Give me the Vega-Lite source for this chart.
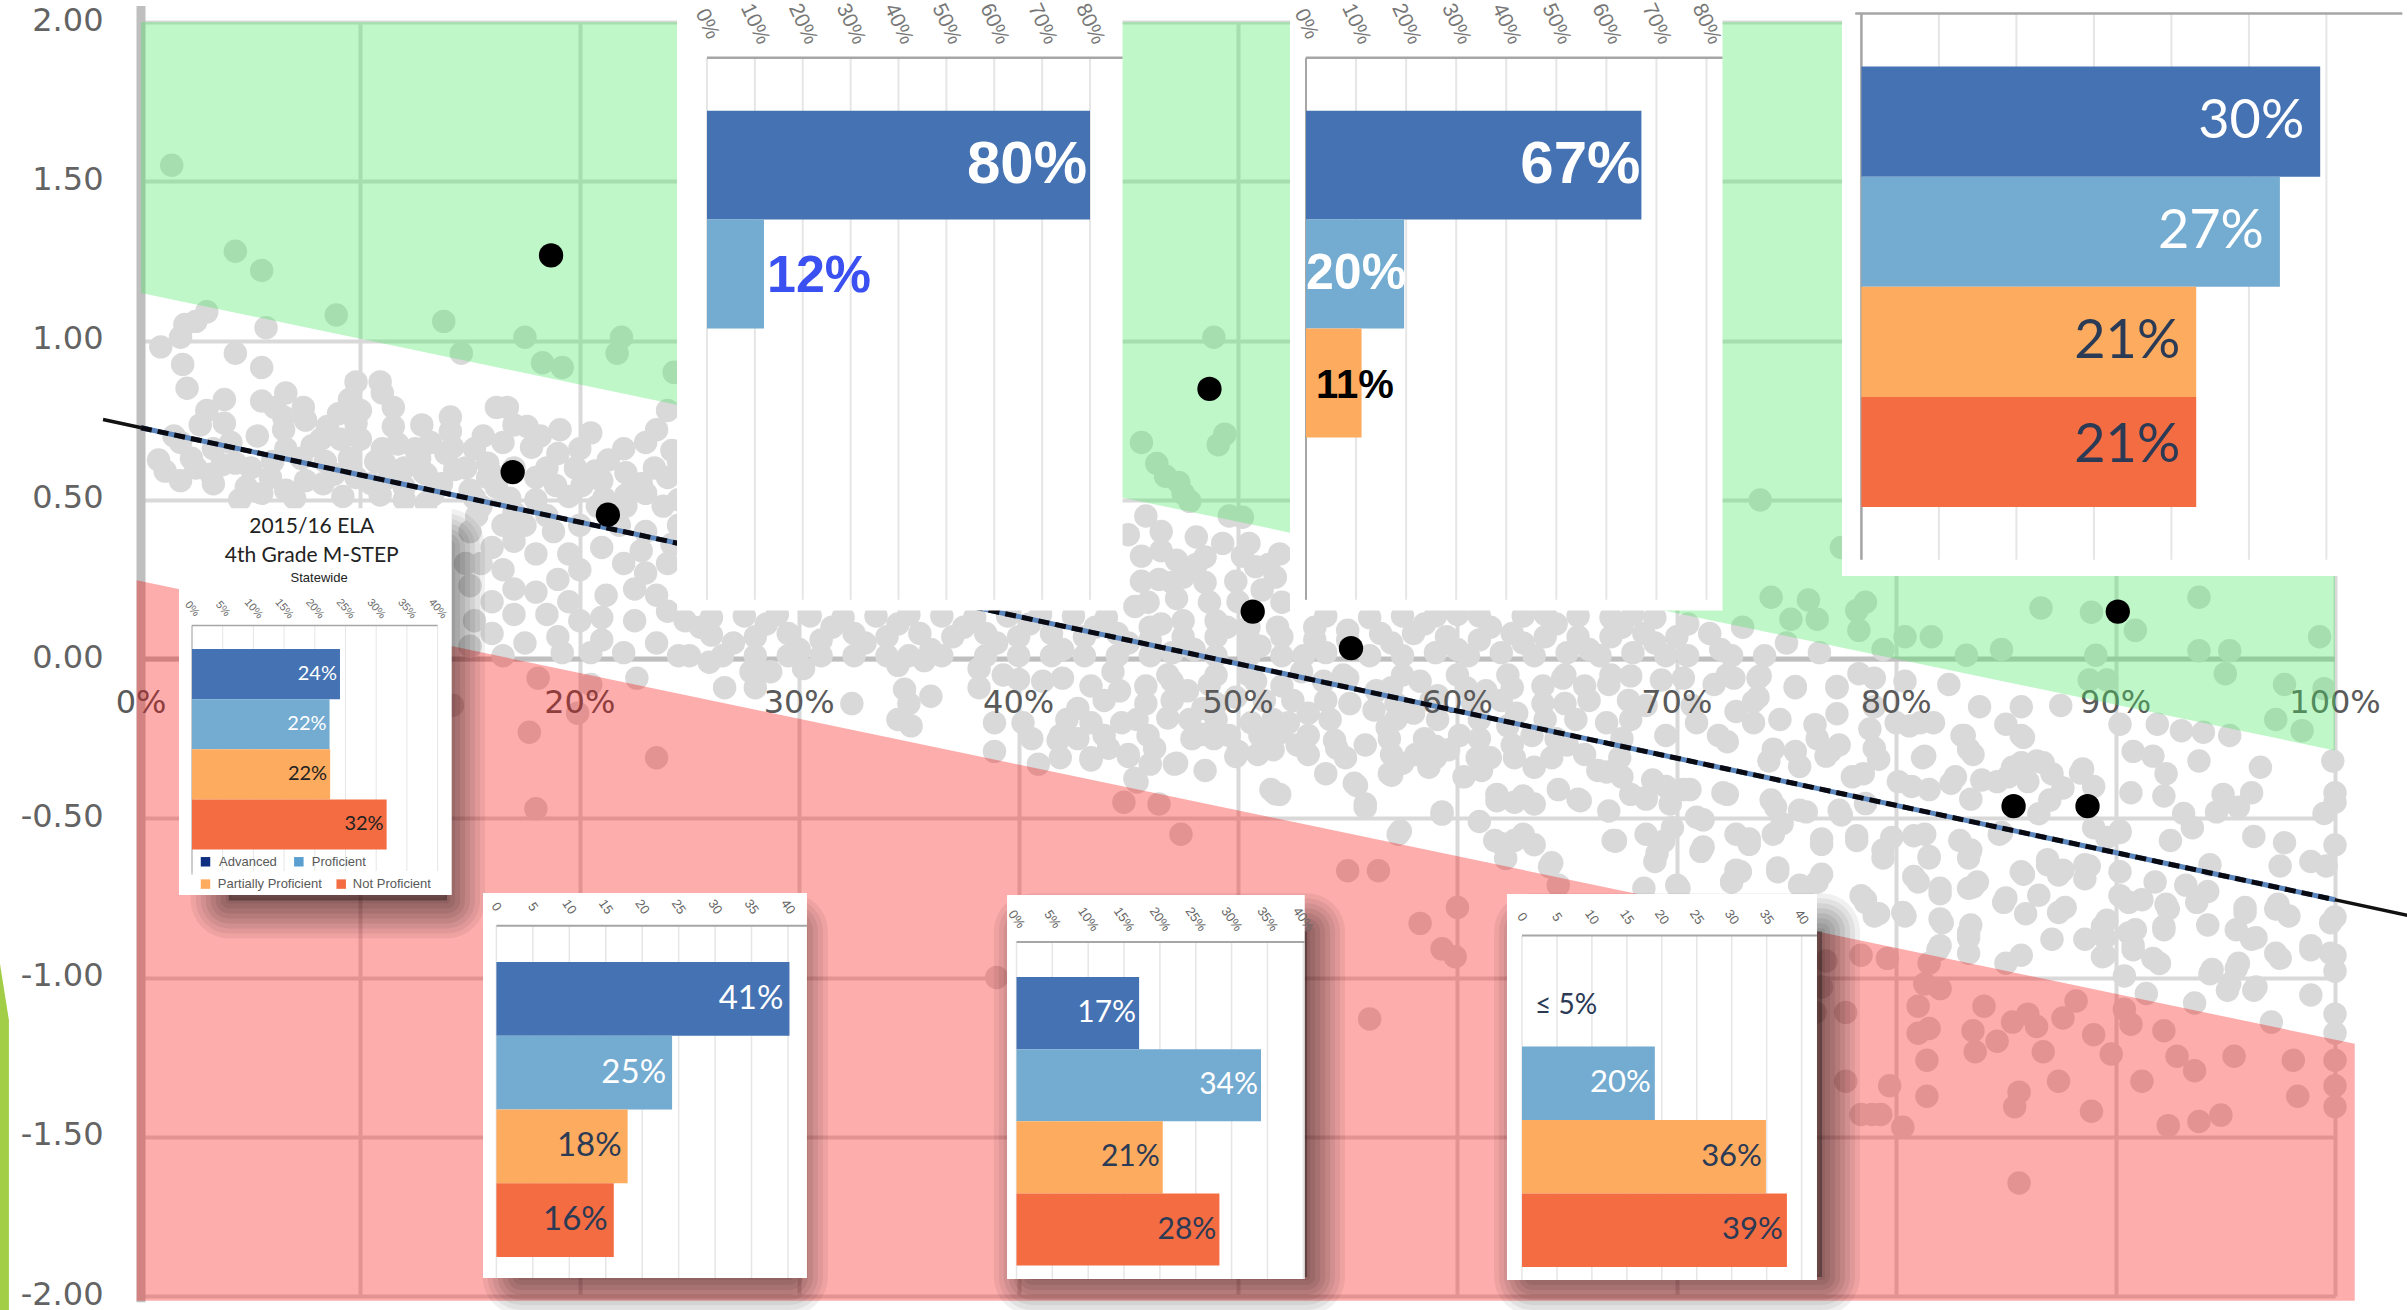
{"$schema":"https://vega.github.io/schema/vega-lite/v6.json","width":2194,"height":1274,"autosize":"none","padding":{"left":141,"top":22,"right":72,"bottom":14},"background":"white",
"datasets":{
"dots":[{"pct":1.4,"score":1.55},{"pct":4.3,"score":1.28},{"pct":5.5,"score":1.22},{"pct":8.9,"score":1.08},{"pct":13.8,"score":1.06},{"pct":17.5,"score":1.01},{"pct":14.6,"score":0.96},{"pct":18.3,"score":0.93},{"pct":19.2,"score":0.915},{"pct":21.9,"score":1.01},{"pct":21.7,"score":0.96},{"pct":24.3,"score":0.9},
{"pct":3,"score":1.09},{"pct":5.7,"score":1.04},{"pct":2.5,"score":1.06},{"pct":2,"score":1.05},{"pct":0.9,"score":0.98},{"pct":1.8,"score":1.01},{"pct":4.3,"score":0.96},{"pct":1.9,"score":0.925},{"pct":5.5,"score":0.915},{"pct":2.1,"score":0.85},{"pct":3.8,"score":0.815},{"pct":5.5,"score":0.81},{"pct":6.6,"score":0.835},{"pct":6.1,"score":0.79},{"pct":7.4,"score":0.79},{"pct":9.8,"score":0.87},{"pct":10.9,"score":0.87},{"pct":11,"score":0.835},{"pct":9.5,"score":0.815},{"pct":16.7,"score":0.79},{"pct":16.2,"score":0.79},{"pct":14.1,"score":0.76},{"pct":12.8,"score":0.735},{"pct":14.1,"score":0.715},{"pct":17,"score":0.735},{"pct":17.6,"score":0.73},{"pct":19.1,"score":0.72},{"pct":15.6,"score":0.7},{"pct":20.5,"score":0.71},{"pct":23,"score":0.68},{"pct":24,"score":0.78},{"pct":24.2,"score":0.655},{"pct":2.7,"score":0.735},{"pct":4.1,"score":0.68},{"pct":8.5,"score":0.73},{"pct":9.8,"score":0.74},{"pct":8.2,"score":0.69},{"pct":6.6,"score":0.66},{"pct":10,"score":0.69},{"pct":11.7,"score":0.675},{"pct":12.7,"score":0.63},{"pct":13.9,"score":0.645},{"pct":14.2,"score":0.665},{"pct":11.1,"score":0.615},{"pct":15.8,"score":0.615},{"pct":17.8,"score":0.665},{"pct":19,"score":0.645},{"pct":21.3,"score":0.625},{"pct":22.1,"score":0.585},{"pct":23.4,"score":0.6},{"pct":20.7,"score":0.59},{"pct":0.8,"score":0.625},{"pct":1.1,"score":0.59},{"pct":2.3,"score":0.63},{"pct":4.3,"score":0.615},{"pct":3.7,"score":0.61},{"pct":5.9,"score":0.57},{"pct":3.3,"score":0.55},{"pct":8.3,"score":0.55},{"pct":6.6,"score":0.53},{"pct":9.8,"score":0.57},{"pct":11.3,"score":0.57},{"pct":12.9,"score":0.585},{"pct":14.3,"score":0.595},{"pct":15.8,"score":0.57},{"pct":18,"score":0.57},{"pct":18.9,"score":0.545},{"pct":20.1,"score":0.545},{"pct":22.1,"score":0.515},{"pct":24,"score":0.57},{"pct":4.5,"score":0.5},{"pct":7,"score":0.505},{"pct":9.2,"score":0.51},{"pct":10.9,"score":0.515},{"pct":13.3,"score":0.515},{"pct":15.2,"score":0.505},{"pct":16.8,"score":0.505},{"pct":22.1,"score":0.48},{"pct":23.8,"score":0.48},{"pct":21.1,"score":0.505},
{"pct":2.5,"score":0.6},{"pct":3.2,"score":0.58},{"pct":5,"score":0.6},{"pct":6,"score":0.62},{"pct":7.3,"score":0.63},{"pct":8.4,"score":0.62},{"pct":9.5,"score":0.63},{"pct":10.7,"score":0.62},{"pct":12,"score":0.6},{"pct":13,"score":0.58},{"pct":14.8,"score":0.6},{"pct":16,"score":0.58},{"pct":17,"score":0.6},{"pct":1.8,"score":0.56},{"pct":4.8,"score":0.54},{"pct":5.5,"score":0.52},{"pct":7.5,"score":0.56},{"pct":8.8,"score":0.58},{"pct":10.5,"score":0.55},{"pct":12,"score":0.54},{"pct":13.7,"score":0.55},{"pct":15,"score":0.53},{"pct":16.2,"score":0.54},{"pct":18.5,"score":0.6},{"pct":19.8,"score":0.6},{"pct":21,"score":0.56},{"pct":22.8,"score":0.55},{"pct":19.5,"score":0.51},{"pct":20.8,"score":0.48},{"pct":18,"score":0.5},{"pct":13,"score":0.49},{"pct":12,"score":0.5},{"pct":15.5,"score":0.48},{"pct":17,"score":0.46},{"pct":18.5,"score":0.45},{"pct":23,"score":0.52},{"pct":24.5,"score":0.5},{"pct":7.8,"score":0.67},{"pct":9.1,"score":0.69},{"pct":11,"score":0.66},{"pct":12.5,"score":0.66},{"pct":9,"score":0.77},{"pct":10,"score":0.78},{"pct":24.5,"score":0.62},
{"pct":1.5,"score":0.7},{"pct":3.3,"score":0.66},{"pct":5.3,"score":0.7},{"pct":6.5,"score":0.72},{"pct":7.5,"score":0.75},{"pct":11.5,"score":0.73},{"pct":13.2,"score":0.68},{"pct":15.2,"score":0.66},{"pct":16.5,"score":0.68},{"pct":18.2,"score":0.7},{"pct":20,"score":0.66},{"pct":22,"score":0.66},{"pct":23.5,"score":0.72},{"pct":24.8,"score":0.58},{"pct":1.8,"score":0.68},{"pct":3.8,"score":0.74},{"pct":3,"score":0.78},{"pct":6.5,"score":0.76},{"pct":11.5,"score":0.79},
{"pct":15,"score":0.4},{"pct":15.5,"score":0.3},{"pct":16,"score":0.18},{"pct":15.2,"score":0.12},{"pct":17.5,"score":0.42},{"pct":18,"score":0.33},{"pct":19,"score":0.25},{"pct":17,"score":0.22},{"pct":18.5,"score":0.14},{"pct":17.5,"score":0.05},{"pct":20,"score":0.42},{"pct":21,"score":0.35},{"pct":20,"score":0.28},{"pct":22,"score":0.3},{"pct":21.2,"score":0.2},{"pct":20,"score":0.12},{"pct":22.5,"score":0.12},{"pct":21,"score":0.06},{"pct":23,"score":0.4},{"pct":24,"score":0.3},{"pct":23.5,"score":0.2},{"pct":24.8,"score":0.12},{"pct":23.5,"score":0.05},{"pct":24.5,"score":0.42},{"pct":25,"score":0.24},{"pct":19.2,"score":0.02},{"pct":15.3,"score":0.45},{"pct":16,"score":0.35},{"pct":16.5,"score":0.42},{"pct":17,"score":0.37},{"pct":18.8,"score":0.4},{"pct":19.5,"score":0.33},{"pct":21.8,"score":0.42},{"pct":22.8,"score":0.34},{"pct":24.2,"score":0.36},{"pct":15,"score":0.23},{"pct":16.5,"score":0.28},{"pct":18,"score":0.21},{"pct":19.5,"score":0.18},{"pct":22.5,"score":0.22},{"pct":23,"score":0.27},{"pct":24,"score":0.15},{"pct":16,"score":0.08},{"pct":17,"score":0.14},{"pct":19,"score":0.07},{"pct":21,"score":0.13},{"pct":22,"score":0.02},{"pct":24.5,"score":0.01},{"pct":20.5,"score":0.02},{"pct":16.5,"score":0.01},{"pct":15,"score":0.04},{"pct":14.8,"score":0.3},
{"pct":18.1,"score":-0.06},{"pct":20.5,"score":-0.08},{"pct":19.9,"score":-0.17},{"pct":17.7,"score":-0.23},{"pct":23.5,"score":-0.31},{"pct":18,"score":-0.47},{"pct":22.6,"score":-0.06},{"pct":26.6,"score":-0.09},{"pct":25.9,"score":-0.01},{"pct":27.8,"score":-0.04},{"pct":28,"score":-0.09},{"pct":28.7,"score":-0.04},{"pct":30.2,"score":-0.03},{"pct":32.4,"score":-0.14},{"pct":34.5,"score":-0.02},{"pct":34.8,"score":-0.095},{"pct":36,"score":-0.117},{"pct":35,"score":-0.14},{"pct":35.7,"score":-0.005},{"pct":38.2,"score":-0.03},{"pct":38.2,"score":-0.09},{"pct":40,"score":-0.064},{"pct":35.1,"score":-0.21},{"pct":34.5,"score":-0.19},{"pct":38.9,"score":-0.2},{"pct":40.2,"score":-0.2},{"pct":38.9,"score":-0.29},{"pct":40.9,"score":-0.33},{"pct":41.8,"score":-0.255},{"pct":41.1,"score":-0.07},{"pct":39.3,"score":-0.05},{"pct":14.2,"score":-0.145},
{"pct":41.9,"score":-0.24},{"pct":43.3,"score":-0.31},{"pct":45,"score":-0.3},{"pct":46.2,"score":-0.28},{"pct":47.1,"score":-0.33},{"pct":48.5,"score":-0.35},{"pct":45.3,"score":-0.375},{"pct":44.7,"score":-0.2},{"pct":43.9,"score":-0.24},{"pct":43.3,"score":-0.085},{"pct":42.7,"score":-0.155},{"pct":44.6,"score":-0.1},{"pct":45.8,"score":-0.14},{"pct":46.8,"score":-0.185},{"pct":45.8,"score":-0.085},{"pct":48.4,"score":-0.155},{"pct":47.7,"score":-0.1},{"pct":49.6,"score":-0.24},{"pct":50.6,"score":-0.2},{"pct":49.9,"score":-0.12},{"pct":51.5,"score":-0.27},{"pct":52.7,"score":-0.27},{"pct":51.5,"score":-0.41},{"pct":51.9,"score":-0.425},{"pct":54,"score":-0.36},{"pct":55.3,"score":-0.39},{"pct":55.8,"score":-0.455},{"pct":54.4,"score":-0.255},{"pct":55.8,"score":-0.27},{"pct":53.2,"score":-0.17},{"pct":55.1,"score":-0.14},{"pct":56.9,"score":-0.36},{"pct":58.7,"score":-0.34},{"pct":59.3,"score":-0.48},{"pct":57.4,"score":-0.54},{"pct":61,"score":-0.51},{"pct":61.8,"score":-0.425},{"pct":60.3,"score":-0.37},{"pct":59.6,"score":-0.285},{"pct":56.8,"score":-0.215},{"pct":58,"score":-0.17},{"pct":60.1,"score":-0.24},{"pct":61.5,"score":-0.31},{"pct":63.4,"score":-0.24},{"pct":62.7,"score":-0.17},{"pct":64.6,"score":-0.41},{"pct":65.5,"score":-0.44},{"pct":63,"score":-0.43},{"pct":62,"score":-0.58},{"pct":63,"score":-0.55},{"pct":64.3,"score":-0.64},{"pct":67.1,"score":-0.57},{"pct":65.8,"score":-0.3},{"pct":66.8,"score":-0.355},{"pct":64.9,"score":-0.14},{"pct":66.8,"score":-0.2},{"pct":61.3,"score":-0.1},{"pct":63.9,"score":-0.085},{"pct":56.3,"score":-0.1},{"pct":53.9,"score":-0.07},{"pct":52,"score":-0.085},{"pct":59.1,"score":-0.115},{"pct":65.8,"score":-0.085},
{"pct":46.8,"score":-0.05},{"pct":49,"score":-0.05},{"pct":50.5,"score":-0.05},{"pct":54.8,"score":-0.05},{"pct":57.5,"score":-0.05},{"pct":60,"score":-0.05},{"pct":62.3,"score":-0.05},{"pct":64.9,"score":-0.05},{"pct":67,"score":-0.05},{"pct":42,"score":-0.06},{"pct":44.3,"score":-0.04},{"pct":47,"score":-0.07},{"pct":48.7,"score":-0.08},{"pct":50.8,"score":-0.07},{"pct":52.9,"score":-0.04},{"pct":55,"score":-0.06},{"pct":57,"score":-0.09},{"pct":58.3,"score":-0.07},{"pct":60.4,"score":-0.09},{"pct":62.5,"score":-0.09},{"pct":64.8,"score":-0.06},{"pct":66.9,"score":-0.08},{"pct":43.9,"score":-0.13},{"pct":47,"score":-0.13},{"pct":49,"score":-0.14},{"pct":51.2,"score":-0.13},{"pct":52.5,"score":-0.13},{"pct":54,"score":-0.13},{"pct":57.2,"score":-0.14},{"pct":58.8,"score":-0.13},{"pct":60.7,"score":-0.14},{"pct":62,"score":-0.13},{"pct":63.9,"score":-0.14},{"pct":66,"score":-0.13},{"pct":67.8,"score":-0.13},{"pct":42.2,"score":-0.19},{"pct":43.3,"score":-0.2},{"pct":45.4,"score":-0.19},{"pct":47.8,"score":-0.19},{"pct":49,"score":-0.19},{"pct":51.6,"score":-0.19},{"pct":52.3,"score":-0.2},{"pct":54.2,"score":-0.19},{"pct":56.2,"score":-0.16},{"pct":57.2,"score":-0.19},{"pct":59.1,"score":-0.19},{"pct":61,"score":-0.19},{"pct":62.3,"score":-0.21},{"pct":64,"score":-0.19},{"pct":65.4,"score":-0.19},{"pct":67.9,"score":-0.19},{"pct":40.6,"score":-0.25},{"pct":42.7,"score":-0.25},{"pct":45.9,"score":-0.24},{"pct":47.9,"score":-0.25},{"pct":48.9,"score":-0.25},{"pct":51,"score":-0.24},{"pct":52,"score":-0.23},{"pct":53.2,"score":-0.24},{"pct":56.9,"score":-0.25},{"pct":58.5,"score":-0.25},{"pct":61,"score":-0.25},{"pct":62.5,"score":-0.27},{"pct":64.5,"score":-0.25},{"pct":65,"score":-0.27},{"pct":67.5,"score":-0.25},{"pct":41.9,"score":-0.31},{"pct":44.1,"score":-0.28},{"pct":46,"score":-0.33},{"pct":50,"score":-0.29},{"pct":50.9,"score":-0.3},{"pct":53.2,"score":-0.3},{"pct":54.9,"score":-0.31},{"pct":57,"score":-0.3},{"pct":58.1,"score":-0.3},{"pct":59,"score":-0.31},{"pct":60.9,"score":-0.31},{"pct":62.6,"score":-0.31},{"pct":64.3,"score":-0.31},{"pct":67.4,"score":-0.31},
{"pct":57,"score":-0.365},{"pct":61.1,"score":-0.35},{"pct":63.5,"score":-0.34},{"pct":66.4,"score":-0.35},{"pct":62.6,"score":-0.45},{"pct":61.8,"score":-0.445},{"pct":63.5,"score":-0.455},{"pct":65.6,"score":-0.445},{"pct":68.6,"score":-0.435},{"pct":69.7,"score":-0.455},{"pct":68.9,"score":-0.38},{"pct":67.5,"score":-0.37},{"pct":61.7,"score":-0.57},{"pct":62.6,"score":-0.57},{"pct":63.5,"score":-0.583},{"pct":62.2,"score":-0.626},{"pct":64.2,"score":-0.652},{"pct":67.2,"score":-0.572},{"pct":68.6,"score":-0.55},{"pct":69,"score":-0.636},{"pct":69.4,"score":-0.572},{"pct":57.3,"score":-0.55},{"pct":59.3,"score":-0.487},{"pct":51.7,"score":-0.423},{"pct":55.4,"score":-0.397},{"pct":55.8,"score":-0.466},{"pct":45.4,"score":-0.386},{"pct":47.2,"score":-0.327},{"pct":43.3,"score":-0.317},{"pct":45,"score":-0.306},{"pct":48.4,"score":-0.237},{"pct":49.9,"score":-0.306},{"pct":51.6,"score":-0.285},{"pct":52.9,"score":-0.274},{"pct":54.5,"score":-0.28},{"pct":57.5,"score":-0.327},{"pct":59,"score":-0.274},
{"pct":44.8,"score":-0.45},{"pct":46.4,"score":-0.455},{"pct":47.4,"score":-0.55},{"pct":55,"score":-0.665},{"pct":56.4,"score":-0.665},{"pct":60,"score":-0.78},{"pct":58.3,"score":-0.83},{"pct":59.3,"score":-0.91},{"pct":59.9,"score":-0.935},{"pct":39,"score":-1},{"pct":56,"score":-1.13},{"pct":64.6,"score":-0.71},
{"pct":45.8,"score":0.449},{"pct":46.5,"score":0.4},{"pct":48.1,"score":0.383},{"pct":45.6,"score":0.323},{"pct":47.2,"score":0.31},{"pct":49.3,"score":0.363},{"pct":50.5,"score":0.363},{"pct":51.4,"score":0.297},{"pct":45.6,"score":0.244},{"pct":47.5,"score":0.257},{"pct":49.9,"score":0.244},{"pct":51.1,"score":0.217},{"pct":45.9,"score":0.178},{"pct":48.7,"score":0.178},{"pct":45.3,"score":0.165},{"pct":47.2,"score":0.19},{"pct":51.7,"score":0.257},{"pct":50.2,"score":0.323},{"pct":48.1,"score":0.297},{"pct":52,"score":0.178},{"pct":46.5,"score":0.34},{"pct":47,"score":0.24},{"pct":48.5,"score":0.24},{"pct":50,"score":0.18},{"pct":49,"score":0.12},{"pct":46,"score":0.1},{"pct":47.5,"score":0.07},{"pct":50.5,"score":0.1},{"pct":51.8,"score":0.1},{"pct":46.4,"score":0.25},{"pct":48.5,"score":0.32},{"pct":50.8,"score":0.29},{"pct":51.9,"score":0.33},{"pct":45,"score":0.39},
{"pct":48.9,"score":1.01},{"pct":45.6,"score":0.68},{"pct":49.4,"score":0.706},{"pct":49.1,"score":0.673},{"pct":46.3,"score":0.614},{"pct":46.7,"score":0.574},{"pct":47.3,"score":0.554},{"pct":47.5,"score":0.52},{"pct":47.8,"score":0.495},{"pct":49.6,"score":0.449},{"pct":50.2,"score":0.445},
{"pct":73.8,"score":0.499},{"pct":77.5,"score":0.35},{"pct":74.3,"score":0.194},{"pct":76,"score":0.185},{"pct":75.2,"score":0.125},{"pct":76.4,"score":0.125},{"pct":78.6,"score":0.178},{"pct":78.2,"score":0.152},{"pct":78.3,"score":0.09},{"pct":86.6,"score":0.16},{"pct":88.9,"score":0.147},{"pct":90.9,"score":0.09},{"pct":93.8,"score":0.194},{"pct":99.3,"score":0.07},{"pct":80.4,"score":0.07},{"pct":81.6,"score":0.07},{"pct":79.4,"score":0.03},{"pct":83.2,"score":0.012},{"pct":84.8,"score":0.03},{"pct":89.1,"score":0.012},{"pct":93.8,"score":0.026},{"pct":95.2,"score":0.026},{"pct":95,"score":-0.046},{"pct":97.7,"score":-0.08},{"pct":99.5,"score":-0.093},{"pct":97.3,"score":-0.19},{"pct":88.8,"score":-0.066},{"pct":89.6,"score":-0.066},{"pct":98.5,"score":-0.225},
{"pct":67.9,"score":-0.053},{"pct":69.3,"score":-0.066},{"pct":72.6,"score":-0.06},{"pct":73.8,"score":-0.053},{"pct":75.4,"score":-0.086},{"pct":77.3,"score":-0.086},{"pct":78.3,"score":-0.046},{"pct":82.4,"score":-0.08},{"pct":68.6,"score":-0.146},{"pct":69.5,"score":-0.24},{"pct":70.7,"score":-0.146},{"pct":71.9,"score":-0.24},{"pct":73.5,"score":-0.133},{"pct":73.5,"score":-0.2},{"pct":74.7,"score":-0.19},{"pct":76.3,"score":-0.206},{"pct":77.3,"score":-0.172},{"pct":79,"score":-0.15},{"pct":80.6,"score":-0.21},{"pct":81.7,"score":-0.2},{"pct":83.8,"score":-0.15},{"pct":85.7,"score":-0.15},{"pct":87.5,"score":-0.146},{"pct":85,"score":-0.205},{"pct":85.7,"score":-0.24},{"pct":83.1,"score":-0.24},{"pct":83.5,"score":-0.3},{"pct":81.3,"score":-0.305},{"pct":79,"score":-0.28},{"pct":77,"score":-0.29},{"pct":75.4,"score":-0.29},{"pct":74.2,"score":-0.32},{"pct":90.2,"score":-0.205},{"pct":91.9,"score":-0.205},{"pct":93,"score":-0.225},{"pct":94,"score":-0.23},{"pct":95.2,"score":-0.24},{"pct":90.8,"score":-0.29},{"pct":91.7,"score":-0.305},{"pct":93.8,"score":-0.32},{"pct":96.6,"score":-0.34},{"pct":99.9,"score":-0.32},{"pct":92.3,"score":-0.36},{"pct":86.4,"score":-0.32},{"pct":85.3,"score":-0.34},{"pct":87.1,"score":-0.36},{"pct":88.5,"score":-0.345},{"pct":84.6,"score":-0.385},{"pct":86,"score":-0.385},{"pct":87.6,"score":-0.405},{"pct":82.7,"score":-0.37},{"pct":81.5,"score":-0.41},{"pct":80.1,"score":-0.385},{"pct":78.5,"score":-0.36},{"pct":83.4,"score":-0.44},{"pct":89,"score":-0.4},{"pct":90.7,"score":-0.42},{"pct":92.2,"score":-0.43},{"pct":94.9,"score":-0.425},{"pct":96.2,"score":-0.42},{"pct":95.6,"score":-0.465},{"pct":94.6,"score":-0.48},{"pct":100,"score":-0.42},{"pct":99.5,"score":-0.485},{"pct":100,"score":-0.45},{"pct":93.1,"score":-0.485},{"pct":93.5,"score":-0.53},{"pct":92.5,"score":-0.57},{"pct":90.2,"score":-0.545},{"pct":89,"score":-0.53},{"pct":84.8,"score":-0.545},{"pct":83.4,"score":-0.6},{"pct":81.5,"score":-0.62},{"pct":79.4,"score":-0.6},{"pct":80.8,"score":-0.555},{"pct":78.2,"score":-0.555},{"pct":76.6,"score":-0.565},{"pct":74.8,"score":-0.517},{"pct":73.3,"score":-0.565},{"pct":71.2,"score":-0.59},{"pct":69.1,"score":-0.61},{"pct":67.2,"score":-0.57},{"pct":67.9,"score":-0.425},{"pct":68.6,"score":-0.44},{"pct":69.5,"score":-0.4},{"pct":70.6,"score":-0.41},{"pct":72.3,"score":-0.425},{"pct":74.5,"score":-0.465},{"pct":75.9,"score":-0.48},{"pct":77.5,"score":-0.49},{"pct":71.2,"score":-0.505},{"pct":69.8,"score":-0.53},{"pct":66.9,"score":-0.477},{"pct":96.3,"score":-0.557},{"pct":97.7,"score":-0.577},{"pct":99.6,"score":-0.65},{"pct":100,"score":-0.584},{"pct":98.9,"score":-0.636},{"pct":97.5,"score":-0.65},{"pct":72.7,"score":-0.663},{"pct":74.6,"score":-0.656},{"pct":76.6,"score":-0.676},{"pct":75.6,"score":-0.71},{"pct":72.5,"score":-0.7},{"pct":70,"score":-0.71},{"pct":68.5,"score":-0.72},{"pct":86.9,"score":-0.63},{"pct":85.8,"score":-0.676},{"pct":80.8,"score":-0.683},{"pct":82,"score":-0.72},{"pct":83.5,"score":-0.716},{"pct":87.6,"score":-0.663},{"pct":88.8,"score":-0.65},{"pct":90.2,"score":-0.743},{"pct":91.2,"score":-0.756},{"pct":92.3,"score":-0.77},{"pct":94.2,"score":-0.73},{"pct":95.9,"score":-0.78},{"pct":97.4,"score":-0.77},{"pct":100,"score":-0.81},{"pct":78.6,"score":-0.756},{"pct":80.3,"score":-0.796},{"pct":82,"score":-0.816},{"pct":85,"score":-0.75},{"pct":85.9,"score":-0.8},{"pct":87.7,"score":-0.78},{"pct":89.6,"score":-0.82},{"pct":83.4,"score":-0.835},{"pct":83.3,"score":-0.875},{"pct":87.1,"score":-0.88},{"pct":88.6,"score":-0.88},{"pct":89.5,"score":-0.875},{"pct":90.9,"score":-0.85},{"pct":90.8,"score":-0.9},{"pct":92.2,"score":-0.84},{"pct":94.2,"score":-0.835},{"pct":96.4,"score":-0.875},{"pct":97.5,"score":-0.94},{"pct":98.9,"score":-0.9},{"pct":100,"score":-0.93},{"pct":100,"score":-0.98},{"pct":95.6,"score":-0.955},{"pct":94.4,"score":-0.975},{"pct":95.2,"score":-1.02},{"pct":96.4,"score":-1.03},{"pct":98.9,"score":-1.055},{"pct":93.6,"score":-1.08},{"pct":97.1,"score":-1.14},{"pct":100,"score":-1.115},{"pct":100,"score":-1.174},{"pct":91.7,"score":-0.94},{"pct":90.4,"score":-0.995},{"pct":85.7,"score":-0.93},{"pct":85,"score":-0.955},{"pct":82,"score":-0.9},{"pct":89.5,"score":-0.93},{"pct":91.4,"score":-1.05},{"pct":78.4,"score":-0.743},{"pct":79.2,"score":-0.8},
{"pct":72.3,"score":-0.05},{"pct":73.7,"score":-0.06},{"pct":75.4,"score":-0.09},{"pct":77.3,"score":-0.09},{"pct":73.7,"score":-0.12},{"pct":72.7,"score":-0.165},{"pct":71.7,"score":-0.08},{"pct":70.3,"score":-0.06},{"pct":70.9,"score":-0.2},{"pct":72.3,"score":-0.26},{"pct":74.4,"score":-0.283},{"pct":76.4,"score":-0.25},{"pct":77.4,"score":-0.27},{"pct":78.8,"score":-0.22},{"pct":80,"score":-0.2},{"pct":79,"score":-0.06},{"pct":80.4,"score":-0.07},{"pct":81.1,"score":-0.2},{"pct":81.2,"score":-0.31},{"pct":83,"score":-0.24},{"pct":83.3,"score":-0.283},{"pct":85.8,"score":-0.246},{"pct":85.7,"score":-0.326},{"pct":86.7,"score":-0.326},{"pct":88.4,"score":-0.358},{"pct":85.1,"score":-0.37},{"pct":83.9,"score":-0.38},{"pct":82.5,"score":-0.39},{"pct":80.7,"score":-0.4},{"pct":79.2,"score":-0.315},{"pct":78,"score":-0.37},{"pct":76.8,"score":-0.305},{"pct":75.6,"score":-0.337},{"pct":70.3,"score":-0.41},{"pct":72.1,"score":-0.42},{"pct":74.3,"score":-0.443},{"pct":75.6,"score":-0.475},{"pct":77.4,"score":-0.475},{"pct":78.6,"score":-0.454},{"pct":70.9,"score":-0.497},{"pct":72.7,"score":-0.55},{"pct":74.4,"score":-0.55},{"pct":76.6,"score":-0.582},{"pct":78.2,"score":-0.57},{"pct":71.1,"score":-0.604},{"pct":73.3,"score":-0.582},{"pct":79.8,"score":-0.56},{"pct":81.3,"score":-0.55},{"pct":82.9,"score":-0.57},{"pct":83.3,"score":-0.625},{"pct":81.5,"score":-0.625},{"pct":79.4,"score":-0.625},{"pct":84.7,"score":-0.55},{"pct":86.5,"score":-0.486},{"pct":87,"score":-0.443},{"pct":90.2,"score":-0.54},{"pct":89.6,"score":-0.56},{"pct":86.9,"score":-0.646},{"pct":88.6,"score":-0.646},{"pct":85.7,"score":-0.668},{"pct":90.2,"score":-0.668},{"pct":88.6,"score":-0.69},{"pct":87.4,"score":-0.678},{"pct":91.8,"score":-0.7},{"pct":93.2,"score":-0.71},{"pct":94.3,"score":-0.646},{"pct":81,"score":-0.7},{"pct":82,"score":-0.737},{"pct":83.3,"score":-0.72},{"pct":83.7,"score":-0.7},{"pct":84.9,"score":-0.764},{"pct":86.5,"score":-0.742},{"pct":87.4,"score":-0.796},{"pct":90.6,"score":-0.764},{"pct":92.4,"score":-0.785},{"pct":93.7,"score":-0.764},{"pct":95.9,"score":-0.796},{"pct":97.3,"score":-0.785},{"pct":97.9,"score":-0.807},{"pct":99.8,"score":-0.828},{"pct":89.4,"score":-0.84},{"pct":90.6,"score":-0.86},{"pct":92.2,"score":-0.85},{"pct":82.1,"score":-0.828},{"pct":83.3,"score":-0.86},{"pct":78.6,"score":-0.764},{"pct":79,"score":-0.807},{"pct":80.4,"score":-0.807},{"pct":81.9,"score":-0.913},{"pct":83.3,"score":-0.924},{"pct":89.4,"score":-0.935},{"pct":90.8,"score":-0.913},{"pct":92,"score":-0.956},{"pct":95.5,"score":-0.85},{"pct":96.2,"score":-0.88},{"pct":97.3,"score":-0.924},{"pct":98.9,"score":-0.913},{"pct":94.3,"score":-0.988},{"pct":95.5,"score":-0.972},{"pct":95.1,"score":-1.04},{"pct":96.3,"score":-1.04},{"pct":99.8,"score":-0.924},{"pct":76.4,"score":-0.7},{"pct":72.9,"score":-0.668},{"pct":74.6,"score":-0.668},{"pct":72.5,"score":-0.7},{"pct":70.1,"score":-0.72},{"pct":75.8,"score":-0.72},
{"pct":81.5,"score":-0.955},{"pct":81.3,"score":-1.02},{"pct":82,"score":-1.035},{"pct":81,"score":-1.09},{"pct":84,"score":-1.09},{"pct":81.5,"score":-1.16},{"pct":81,"score":-1.175},{"pct":83.5,"score":-1.167},{"pct":84.6,"score":-1.2},{"pct":83.6,"score":-1.233},{"pct":85.3,"score":-1.14},{"pct":86,"score":-1.115},{"pct":86.4,"score":-1.154},{"pct":87.6,"score":-1.127},{"pct":88.2,"score":-1.074},{"pct":89,"score":-1.18},{"pct":89.8,"score":-1.24},{"pct":86.7,"score":-1.233},{"pct":90.4,"score":-1.1},{"pct":90.7,"score":-1.147},{"pct":92.2,"score":-1.167},{"pct":92.8,"score":-1.247},{"pct":93.6,"score":-1.293},{"pct":95.4,"score":-1.247},{"pct":98.1,"score":-1.26},{"pct":100,"score":-1.26},{"pct":100,"score":-1.34},{"pct":100,"score":-1.406},{"pct":98.3,"score":-1.373},{"pct":91.2,"score":-1.326},{"pct":87.4,"score":-1.326},{"pct":85.6,"score":-1.36},{"pct":85.4,"score":-1.406},{"pct":88.9,"score":-1.42},{"pct":92.4,"score":-1.465},{"pct":93.8,"score":-1.452},{"pct":94.8,"score":-1.432},{"pct":81.4,"score":-1.26},{"pct":81.4,"score":-1.373},{"pct":77.7,"score":-1.326},{"pct":79.7,"score":-1.34},{"pct":78.9,"score":-1.43},{"pct":78.4,"score":-1.43},{"pct":79.3,"score":-1.43},{"pct":80.3,"score":-1.47},{"pct":85.6,"score":-1.645},{"pct":77.7,"score":-1.11},{"pct":76.8,"score":-0.948},{"pct":78.4,"score":-0.93},{"pct":79.6,"score":-0.94},{"pct":76.6,"score":-1.03},{"pct":76.3,"score":-1.11},
{"pct":25.5,"score":0.1},{"pct":27,"score":0.05},{"pct":28.5,"score":0.11},{"pct":30,"score":0.03},{"pct":31.5,"score":0.1},{"pct":33,"score":0.05},{"pct":34.5,"score":0.11},{"pct":36,"score":0.03},{"pct":37.5,"score":0.1},{"pct":39,"score":0.05},{"pct":40.5,"score":0.11},{"pct":42,"score":0.03},{"pct":43.5,"score":0.1},{"pct":45,"score":0.05},{"pct":46.5,"score":0.11},{"pct":48,"score":0.03},{"pct":49.5,"score":0.1},{"pct":51,"score":0.04},{"pct":53.5,"score":0.1},{"pct":55,"score":0.09},{"pct":57,"score":0.05},{"pct":58.5,"score":0.11},{"pct":60,"score":0.03},{"pct":61.5,"score":0.1},{"pct":63,"score":0.05},{"pct":64.5,"score":0.11},{"pct":66,"score":0.03},{"pct":67.5,"score":0.1},{"pct":69,"score":0.05},{"pct":70.5,"score":0.11},{"pct":72,"score":0.03},{"pct":73,"score":0.1},{"pct":75,"score":0.05},{"pct":76.5,"score":0.02},{"pct":26,"score":0.13},{"pct":29,"score":0.14},{"pct":32,"score":0.13},{"pct":35,"score":0.14},{"pct":38,"score":0.13},{"pct":41,"score":0.14},{"pct":44,"score":0.13},{"pct":26.5,"score":0.01},{"pct":29.5,"score":0.01},{"pct":34,"score":0.01},{"pct":38.5,"score":0.01},{"pct":43,"score":0.01},{"pct":47,"score":0.02},{"pct":54,"score":0.02},{"pct":59,"score":0.02},{"pct":62,"score":0.02},{"pct":65,"score":0.02},{"pct":68,"score":0.02},{"pct":70.5,"score":0.01},{"pct":74,"score":0.01},{"pct":56,"score":0.13},{"pct":60,"score":0.14},{"pct":64,"score":0.14},{"pct":68,"score":0.14},
{"pct":26,"score":0.075},{"pct":28,"score":0.07},{"pct":29.5,"score":0.08},{"pct":31,"score":0.06},{"pct":32.5,"score":0.08},{"pct":34,"score":0.07},{"pct":35.5,"score":0.08},{"pct":37,"score":0.07},{"pct":38.5,"score":0.08},{"pct":40,"score":0.07},{"pct":41.5,"score":0.08},{"pct":43,"score":0.07},{"pct":44.5,"score":0.08},{"pct":46,"score":0.06},{"pct":47.5,"score":0.12},{"pct":49,"score":0.07},{"pct":50.5,"score":0.06},{"pct":52,"score":0.07},{"pct":53.5,"score":0.06},{"pct":55,"score":0.06},{"pct":56.5,"score":0.08},{"pct":58,"score":0.08},{"pct":59.5,"score":0.07},{"pct":61,"score":0.06},{"pct":62.5,"score":0.08},{"pct":64,"score":0.07},{"pct":65.5,"score":0.07},{"pct":67,"score":0.07},{"pct":68.5,"score":0.08},{"pct":70,"score":0.07},{"pct":71.5,"score":0.08},{"pct":27.5,"score":0.135},{"pct":30.5,"score":0.135},{"pct":33.5,"score":0.135},{"pct":36.5,"score":0.135},{"pct":39.5,"score":0.135},{"pct":42.5,"score":0.135},{"pct":54,"score":0.135},{"pct":57.5,"score":0.135},{"pct":59,"score":0.135},{"pct":61,"score":0.135},{"pct":63,"score":0.135},{"pct":65.5,"score":0.135},{"pct":67,"score":0.13},{"pct":69,"score":0.13},{"pct":25,"score":0.01},{"pct":28,"score":0.01},{"pct":31,"score":0.01},{"pct":32.5,"score":0.01},{"pct":35,"score":0.01},{"pct":36.5,"score":0.01},{"pct":40,"score":0.01},{"pct":41.5,"score":0.01},{"pct":44.5,"score":0.01},{"pct":46,"score":0.01},{"pct":49,"score":0.01},{"pct":50.5,"score":0.01},{"pct":52,"score":0.01},{"pct":53,"score":0.01},{"pct":56,"score":0.01},{"pct":57.5,"score":0.01},{"pct":60.5,"score":0.01},{"pct":63.5,"score":0.01},{"pct":66.5,"score":0.01},{"pct":69.5,"score":0.01},{"pct":72.5,"score":0.01}],
"shadows":[{"pct":4,"pct2":13.95,"score":0.353,"score2":-0.758},{"pct":17.3,"pct2":29.58,"score":-0.855,"score2":-1.94},{"pct":40.6,"pct2":53.15,"score":-0.855,"score2":-1.94},{"pct":63.4,"pct2":76.62,"score":-0.855,"score2":-1.94}],
"ticks40":[{"pct":0,"label":"0%"},{"pct":5,"label":"5%"},{"pct":10,"label":"10%"},{"pct":15,"label":"15%"},{"pct":20,"label":"20%"},{"pct":25,"label":"25%"},{"pct":30,"label":"30%"},{"pct":35,"label":"35%"},{"pct":40,"label":"40%"}],
"ticks40n":[{"pct":0,"label":"0"},{"pct":5,"label":"5"},{"pct":10,"label":"10"},{"pct":15,"label":"15"},{"pct":20,"label":"20"},{"pct":25,"label":"25"},{"pct":30,"label":"30"},{"pct":35,"label":"35"},{"pct":40,"label":"40"}],
"ticks80":[{"pct":0,"label":"0%"},{"pct":10,"label":"10%"},{"pct":20,"label":"20%"},{"pct":30,"label":"30%"},{"pct":40,"label":"40%"},{"pct":50,"label":"50%"},{"pct":60,"label":"60%"},{"pct":70,"label":"70%"},{"pct":80,"label":"80%"}],
"ticks30":[{"pct":0},{"pct":5},{"pct":10},{"pct":15},{"pct":20},{"pct":25},{"pct":30}]
},
"resolve":{"scale":{"x":"independent","y":"independent"}},
"layer":[
{"data":{"name":"dots"},
"encoding":{"x":{"field":"pct","type":"quantitative","scale":{"domain":[0,100],"nice":false,"zero":false},"axis":{"values":[0,10,20,30,40,50,60,70,80,90,100],"labels":false,"ticks":false,"domain":false,"title":null,"grid":true,"gridColor":"#d9d9d9","gridWidth":4}},
"y":{"field":"score","type":"quantitative","scale":{"domain":[-2,2],"nice":false,"zero":false},"axis":{"values":[-2,-1.5,-1,-0.5,0,0.5,1,1.5,2],"labelExpr":"replace(format(datum.value,'.2f'),'−','-')","labelFont":"DejaVu Sans","labelFontSize":32,"labelColor":"#636363","labelPadding":38,"labelOffset":-2,"ticks":false,"domain":false,"title":null,"grid":true,"gridColor":"#d9d9d9","gridWidth":4}}},
"layer":[
{"mark":{"type":"rule","color":"#bfbfbf","strokeWidth":5},"data":{"values":[{"score":0,"pct":0,"pct2":100}]},"encoding":{"x2":{"field":"pct2"}}},
{"mark":{"type":"rule","color":"#bfbfbf","strokeWidth":9},"data":{"values":[{"pct":0,"score":2.05,"score2":-2.02}]},"encoding":{"y2":{"field":"score2"}}},
{"mark":{"type":"circle","color":"#d9d9d9","opacity":1,"size":550}},
{"mark":{"type":"text","font":"DejaVu Sans","fontSize":32,"color":"#5a5a5a","dy":44,"baseline":"middle"},"data":{"values":[{"pct":0,"score":0,"label":"0%"},{"pct":20,"score":0,"label":"20%"},{"pct":30,"score":0,"label":"30%"},{"pct":40,"score":0,"label":"40%"},{"pct":50,"score":0,"label":"50%"},{"pct":60,"score":0,"label":"60%"},{"pct":70,"score":0,"label":"70%"},{"pct":80,"score":0,"label":"80%"},{"pct":90,"score":0,"label":"90%"},{"pct":100,"score":0,"label":"100%"}]},"encoding":{"text":{"field":"label"}}},
{"mark":{"type":"area","color":"#48e864","opacity":0.35},"data":{"values":[{"pct":0,"score":1.149,"score2":2},{"pct":100,"score":-0.287,"score2":2}]},"encoding":{"y2":{"field":"score2"}}},
{"mark":{"type":"area","color":"#fd0606","opacity":0.33},"data":{"values":[{"pct":-0.2,"score":0.247,"score2":-2.015},{"pct":100.9,"score":-1.208,"score2":-2.015}]},"encoding":{"y2":{"field":"score2"}}},
{"mark":{"type":"area","color":"#a2cd46"},"data":{"values":[{"pct":-6.43,"score":-0.955,"score2":-2.05},{"pct":-6.02,"score":-1.134,"score2":-2.05}]},"encoding":{"y2":{"field":"score2"}}},
{"mark":{"type":"line","color":"#111111","strokeWidth":3.5},"data":{"values":[{"pct":-1.73,"score":0.752},{"pct":103.3,"score":-0.805}]}},
{"mark":{"type":"line","color":"#5b86bd","strokeWidth":5},"data":{"values":[{"pct":0,"score":0.726},{"pct":100,"score":-0.756}]}},
{"mark":{"type":"line","color":"#0a0a12","strokeWidth":5,"strokeDash":[11,6]},"data":{"values":[{"pct":0,"score":0.726},{"pct":100,"score":-0.756}]}},
{"mark":{"type":"circle","color":"#000000","opacity":1,"size":590},"data":{"values":[{"pct":18.69,"score":1.267},{"pct":16.94,"score":0.587},{"pct":21.28,"score":0.453},{"pct":48.7,"score":0.848},{"pct":50.67,"score":0.149},{"pct":55.15,"score":0.034},{"pct":85.35,"score":-0.462},{"pct":88.72,"score":-0.462},{"pct":90.1,"score":0.149}]}},
{"mark":{"type":"rect","fill":"black","fillOpacity":0.3},"data":{"name":"shadows"},"encoding":{"x2":{"field":"pct2"},"y2":{"field":"score2"}}},
{"mark":{"type":"rect","fill":null,"stroke":"black","strokeOpacity":0.06,"strokeWidth":76,"strokeJoin":"round"},"data":{"name":"shadows"},"encoding":{"x2":{"field":"pct2"},"y2":{"field":"score2"}}},
{"mark":{"type":"rect","fill":null,"stroke":"black","strokeOpacity":0.06,"strokeWidth":66,"strokeJoin":"round"},"data":{"name":"shadows"},"encoding":{"x2":{"field":"pct2"},"y2":{"field":"score2"}}},
{"mark":{"type":"rect","fill":null,"stroke":"black","strokeOpacity":0.06,"strokeWidth":56,"strokeJoin":"round"},"data":{"name":"shadows"},"encoding":{"x2":{"field":"pct2"},"y2":{"field":"score2"}}},
{"mark":{"type":"rect","fill":null,"stroke":"black","strokeOpacity":0.07,"strokeWidth":46,"strokeJoin":"round"},"data":{"name":"shadows"},"encoding":{"x2":{"field":"pct2"},"y2":{"field":"score2"}}},
{"mark":{"type":"rect","fill":null,"stroke":"black","strokeOpacity":0.07,"strokeWidth":36,"strokeJoin":"round"},"data":{"name":"shadows"},"encoding":{"x2":{"field":"pct2"},"y2":{"field":"score2"}}},
{"mark":{"type":"rect","fill":null,"stroke":"black","strokeOpacity":0.07,"strokeWidth":26,"strokeJoin":"round"},"data":{"name":"shadows"},"encoding":{"x2":{"field":"pct2"},"y2":{"field":"score2"}}},
{"mark":{"type":"rect","fill":null,"stroke":"black","strokeOpacity":0.07,"strokeWidth":16,"strokeJoin":"round"},"data":{"name":"shadows"},"encoding":{"x2":{"field":"pct2"},"y2":{"field":"score2"}}},
{"mark":{"type":"rect","fill":null,"stroke":"black","strokeOpacity":0.07,"strokeWidth":6,"strokeJoin":"round"},"data":{"name":"shadows"},"encoding":{"x2":{"field":"pct2"},"y2":{"field":"score2"}}}
]},

{"encoding":{"x":{"field":"pct","type":"quantitative","scale":{"domain":[0,40],"range":[51,296.6],"nice":false,"zero":false},"axis":null},"y":{"field":"row","type":"quantitative","scale":{"domain":[0,4],"range":[627,827.5],"nice":false,"zero":false},"axis":null}},
"layer":[
{"mark":{"type":"rect","fill":"white"},"data":{"values":[{"pct":-2.12,"pct2":42.3,"row":-2.81,"row2":4.91}]},"encoding":{"x2":{"field":"pct2"},"y2":{"field":"row2"}}},
{"mark":{"type":"rule","color":"#e6e6e6","strokeWidth":1},"data":{"name":"ticks40"},"transform":[{"calculate":"-0.47","as":"row"},{"calculate":"4.43","as":"row2"}],"encoding":{"y2":{"field":"row2"}}},
{"mark":{"type":"rule","color":"#a6a6a6","strokeWidth":1.5},"data":{"values":[{"pct":0,"pct2":40,"row":-0.47}]},"encoding":{"x2":{"field":"pct2"}}},
{"mark":{"type":"rule","color":"#a6a6a6","strokeWidth":1},"data":{"values":[{"pct":0,"row":-0.47,"row2":4.5}]},"encoding":{"y2":{"field":"row2"}}},
{"mark":{"type":"text","font":"Liberation Sans","fontSize":11,"color":"#6b6b6b","angle":50,"baseline":"middle"},"data":{"name":"ticks40"},"transform":[{"calculate":"-0.8","as":"row"}],"encoding":{"text":{"field":"label"}}},
{"mark":{"type":"rect"},"data":{"values":[{"level":"Advanced","start":0,"pct":24.1,"row":0,"row2":1},{"level":"Proficient","start":0,"pct":22.4,"row":1,"row2":2},{"level":"Partially Proficient","start":0,"pct":22.5,"row":2,"row2":3},{"level":"Not Proficient","start":0,"pct":31.7,"row":3,"row2":4}]},"encoding":{"x2":{"field":"start"},"y2":{"field":"row2"},"fill":{"field":"level","type":"nominal","legend":null,"scale":{"domain":["Advanced","Proficient","Partially Proficient","Not Proficient"],"range":["#4472b3","#73abd1","#fdac5f","#f46c41"]}}}},
{"mark":{"type":"text","font":"Lato","fontSize":20,"align":"right","dx":-3,"baseline":"middle"},"data":{"values":[{"level":"Advanced","pct":24.1,"row":0.5,"label":"24%"},{"level":"Proficient","pct":22.4,"row":1.5,"label":"22%"},{"level":"Partially Proficient","pct":22.5,"row":2.5,"label":"22%"},{"level":"Not Proficient","pct":31.7,"row":3.5,"label":"32%"}]},"encoding":{"text":{"field":"label"},"color":{"condition":{"test":"datum.row<2","value":"#ffffff"},"value":"#222222"}}},
{"mark":{"type":"text","font":"Lato","fontSize":21,"color":"#222222","baseline":"middle"},"data":{"values":[{"pct":19.5,"row":-2.43,"label":"2015/16 ELA"},{"pct":19.5,"row":-1.86,"label":"4th Grade M-STEP"}]},"encoding":{"text":{"field":"label"}}},
{"mark":{"type":"text","font":"Liberation Sans","fontSize":13,"color":"#222222","baseline":"middle"},"data":{"values":[{"pct":20.7,"row":-1.42,"label":"Statewide"}]},"encoding":{"text":{"field":"label"}}},
{"mark":{"type":"square","size":90,"opacity":1},"data":{"values":[{"pct":2.2,"row":4.245,"swatch":"#0f2f82"},{"pct":17.4,"row":4.245,"swatch":"#5b9fd0"},{"pct":2.2,"row":4.69,"swatch":"#fdac5f"},{"pct":24.3,"row":4.69,"swatch":"#f46c41"}]},"encoding":{"color":{"field":"swatch","type":"nominal","scale":null}}},
{"mark":{"type":"text","font":"Liberation Sans","fontSize":13,"color":"#595959","align":"left","baseline":"middle"},"data":{"values":[{"pct":4.4,"row":4.245,"label":"Advanced"},{"pct":19.5,"row":4.245,"label":"Proficient"},{"pct":4.2,"row":4.69,"label":"Partially Proficient"},{"pct":26.2,"row":4.69,"label":"Not Proficient"}]},"encoding":{"text":{"field":"label"}}}
]},

{"encoding":{"x":{"field":"pct","type":"quantitative","scale":{"domain":[0,40],"range":[355.4,647],"nice":false,"zero":false},"axis":null},"y":{"field":"row","type":"quantitative","scale":{"domain":[0,4],"range":[940,1235],"nice":false,"zero":false},"axis":null}},
"layer":[
{"mark":{"type":"rect","fill":"white"},"data":{"values":[{"pct":-1.84,"pct2":42.6,"row":-0.936,"row2":4.285}]},"encoding":{"x2":{"field":"pct2"},"y2":{"field":"row2"}}},
{"mark":{"type":"rule","color":"#e6e6e6","strokeWidth":1.5},"data":{"name":"ticks40n"},"transform":[{"calculate":"-0.49","as":"row"},{"calculate":"4.285","as":"row2"}],"encoding":{"y2":{"field":"row2"}}},
{"mark":{"type":"rule","color":"#a6a6a6","strokeWidth":2},"data":{"values":[{"pct":0,"pct2":42.6,"row":-0.49}]},"encoding":{"x2":{"field":"pct2"}}},
{"mark":{"type":"text","font":"Liberation Sans","fontSize":13,"color":"#666666","angle":55,"baseline":"middle"},"data":{"name":"ticks40n"},"transform":[{"calculate":"-0.746","as":"row"}],"encoding":{"text":{"field":"label"}}},
{"mark":{"type":"rect"},"data":{"values":[{"level":"Advanced","start":0,"pct":40.2,"row":0,"row2":1},{"level":"Proficient","start":0,"pct":24.1,"row":1,"row2":2},{"level":"Partially Proficient","start":0,"pct":18,"row":2,"row2":3},{"level":"Not Proficient","start":0,"pct":16.1,"row":3,"row2":4}]},"encoding":{"x2":{"field":"start"},"y2":{"field":"row2"},"fill":{"field":"level","type":"nominal","legend":null}}},
{"mark":{"type":"text","font":"Lato","fontSize":33,"align":"right","dx":-6,"baseline":"middle"},"data":{"values":[{"pct":40.2,"row":0.5,"label":"41%"},{"pct":24.1,"row":1.5,"label":"25%"},{"pct":18,"row":2.5,"label":"18%"},{"pct":16.1,"row":3.5,"label":"16%"}]},"encoding":{"text":{"field":"label"},"color":{"condition":{"test":"datum.row<2","value":"#ffffff"},"value":"#2b3a55"}}}
]},

{"encoding":{"x":{"field":"pct","type":"quantitative","scale":{"domain":[0,40],"range":[875.5,1162.3],"nice":false,"zero":false},"axis":null},"y":{"field":"row","type":"quantitative","scale":{"domain":[0,4],"range":[955,1243.6],"nice":false,"zero":false},"axis":null}},
"layer":[
{"mark":{"type":"rect","fill":"white"},"data":{"values":[{"pct":-1.32,"pct2":40.2,"row":-1.136,"row2":4.186}]},"encoding":{"x2":{"field":"pct2"},"y2":{"field":"row2"}}},
{"mark":{"type":"rule","color":"#e6e6e6","strokeWidth":1.5},"data":{"name":"ticks40"},"transform":[{"calculate":"-0.485","as":"row"},{"calculate":"4.186","as":"row2"}],"encoding":{"y2":{"field":"row2"}}},
{"mark":{"type":"rule","color":"#a6a6a6","strokeWidth":2},"data":{"values":[{"pct":0,"pct2":40.2,"row":-0.485}]},"encoding":{"x2":{"field":"pct2"}}},
{"mark":{"type":"text","font":"Liberation Sans","fontSize":13,"color":"#666666","angle":55,"baseline":"middle"},"data":{"name":"ticks40"},"transform":[{"calculate":"-0.8","as":"row"}],"encoding":{"text":{"field":"label"}}},
{"mark":{"type":"rect"},"data":{"values":[{"level":"Advanced","start":0,"pct":17.1,"row":0,"row2":1},{"level":"Proficient","start":0,"pct":34.1,"row":1,"row2":2},{"level":"Partially Proficient","start":0,"pct":20.4,"row":2,"row2":3},{"level":"Not Proficient","start":0,"pct":28.3,"row":3,"row2":4}]},"encoding":{"x2":{"field":"start"},"y2":{"field":"row2"},"fill":{"field":"level","type":"nominal","legend":null}}},
{"mark":{"type":"text","font":"Lato","fontSize":30,"align":"right","dx":-3,"baseline":"middle"},"data":{"values":[{"pct":17.1,"row":0.5,"label":"17%"},{"pct":34.1,"row":1.5,"label":"34%"},{"pct":20.4,"row":2.5,"label":"21%"},{"pct":28.3,"row":3.5,"label":"28%"}]},"encoding":{"text":{"field":"label"},"color":{"condition":{"test":"datum.row<2","value":"#ffffff"},"value":"#2b3a55"}}}
]},

{"encoding":{"x":{"field":"pct","type":"quantitative","scale":{"domain":[0,40],"range":[1381,1660.6],"nice":false,"zero":false},"axis":null},"y":{"field":"row","type":"quantitative","scale":{"domain":[0,4],"range":[951,1245],"nice":false,"zero":false},"axis":null}},
"layer":[
{"mark":{"type":"rect","fill":"white"},"data":{"values":[{"pct":-2.15,"pct2":42.2,"row":-1.075,"row2":4.177}]},"encoding":{"x2":{"field":"pct2"},"y2":{"field":"row2"}}},
{"mark":{"type":"rule","color":"#e6e6e6","strokeWidth":1.5},"data":{"name":"ticks40n"},"transform":[{"calculate":"-0.51","as":"row"},{"calculate":"4.177","as":"row2"}],"encoding":{"y2":{"field":"row2"}}},
{"mark":{"type":"rule","color":"#a6a6a6","strokeWidth":2},"data":{"values":[{"pct":0,"pct2":42.2,"row":-0.51}]},"encoding":{"x2":{"field":"pct2"}}},
{"mark":{"type":"text","font":"Liberation Sans","fontSize":13,"color":"#666666","angle":55,"baseline":"middle"},"data":{"name":"ticks40n"},"transform":[{"calculate":"-0.76","as":"row"}],"encoding":{"text":{"field":"label"}}},
{"mark":{"type":"rect"},"data":{"values":[{"level":"Proficient","start":0,"pct":19,"row":1,"row2":2},{"level":"Partially Proficient","start":0,"pct":34.9,"row":2,"row2":3},{"level":"Not Proficient","start":0,"pct":37.9,"row":3,"row2":4}]},"encoding":{"x2":{"field":"start"},"y2":{"field":"row2"},"fill":{"field":"level","type":"nominal","legend":null}}},
{"mark":{"type":"text","font":"Lato","fontSize":31,"align":"right","dx":-4,"baseline":"middle"},"data":{"values":[{"pct":19,"row":1.5,"label":"20%"},{"pct":34.9,"row":2.5,"label":"36%"},{"pct":37.9,"row":3.5,"label":"39%"}]},"encoding":{"text":{"field":"label"},"color":{"condition":{"test":"datum.row<2","value":"#ffffff"},"value":"#2b3a55"}}},
{"mark":{"type":"text","font":"Lato","fontSize":28,"align":"left","baseline":"middle","color":"#2b3a55"},"data":{"values":[{"pct":1.86,"row":0.45,"label":"≤ 5%"}]},"encoding":{"text":{"field":"label"}}}
]},

{"encoding":{"x":{"field":"pct","type":"quantitative","scale":{"domain":[0,80],"range":[566,949],"nice":false,"zero":false},"axis":null},"y":{"field":"row","type":"quantitative","scale":{"domain":[0,4],"range":[88.7,524.3],"nice":false,"zero":false},"axis":null}},
"layer":[
{"mark":{"type":"rect","fill":"white"},"data":{"values":[{"pct":-6.26,"pct2":86.8,"row":-1.02,"row2":4.59}]},"encoding":{"x2":{"field":"pct2"},"y2":{"field":"row2"}}},
{"mark":{"type":"rule","color":"#e6e6e6","strokeWidth":2},"data":{"name":"ticks80"},"transform":[{"calculate":"-0.486","as":"row"},{"calculate":"4.49","as":"row2"}],"encoding":{"y2":{"field":"row2"}}},
{"mark":{"type":"rule","color":"#a6a6a6","strokeWidth":2.5},"data":{"values":[{"pct":0,"pct2":86.8,"row":-0.486}]},"encoding":{"x2":{"field":"pct2"}}},
{"mark":{"type":"text","font":"Liberation Sans","fontSize":21,"color":"#777777","angle":65,"baseline":"middle"},"data":{"name":"ticks80"},"transform":[{"calculate":"-0.796","as":"row"}],"encoding":{"text":{"field":"label"}}},
{"mark":{"type":"rect"},"data":{"values":[{"level":"Advanced","start":0,"pct":80,"row":0,"row2":1},{"level":"Proficient","start":0,"pct":11.9,"row":1,"row2":2}]},"encoding":{"x2":{"field":"start"},"y2":{"field":"row2"},"fill":{"field":"level","type":"nominal","legend":null}}},
{"mark":{"type":"text","font":"Liberation Sans","fontWeight":"bold","fontSize":60,"align":"right","dx":-3,"baseline":"middle","color":"#ffffff"},"data":{"values":[{"pct":80,"row":0.5,"label":"80%"}]},"encoding":{"text":{"field":"label"}}},
{"mark":{"type":"text","font":"Liberation Sans","fontWeight":"bold","fontSize":52,"align":"left","dx":3,"baseline":"middle","color":"#3a50f0"},"data":{"values":[{"pct":11.9,"row":1.52,"label":"12%"}]},"encoding":{"text":{"field":"label"}}}
]},

{"encoding":{"x":{"field":"pct","type":"quantitative","scale":{"domain":[0,80],"range":[1165,1565.5],"nice":false,"zero":false},"axis":null},"y":{"field":"row","type":"quantitative","scale":{"domain":[0,4],"range":[88.7,524.3],"nice":false,"zero":false},"axis":null}},
"layer":[
{"mark":{"type":"rect","fill":"white"},"data":{"values":[{"pct":-3.2,"pct2":83.2,"row":-1.02,"row2":4.59}]},"encoding":{"x2":{"field":"pct2"},"y2":{"field":"row2"}}},
{"mark":{"type":"rule","color":"#e6e6e6","strokeWidth":2},"data":{"name":"ticks80"},"transform":[{"calculate":"-0.486","as":"row"},{"calculate":"4.49","as":"row2"}],"encoding":{"y2":{"field":"row2"}}},
{"mark":{"type":"rule","color":"#a6a6a6","strokeWidth":2.5},"data":{"values":[{"pct":0,"pct2":83.2,"row":-0.486}]},"encoding":{"x2":{"field":"pct2"}}},
{"mark":{"type":"rule","color":"#a6a6a6","strokeWidth":2},"data":{"values":[{"pct":0,"row":-0.486,"row2":4.49}]},"encoding":{"y2":{"field":"row2"}}},
{"mark":{"type":"text","font":"Liberation Sans","fontSize":21,"color":"#777777","angle":65,"baseline":"middle"},"data":{"name":"ticks80"},"transform":[{"calculate":"-0.796","as":"row"}],"encoding":{"text":{"field":"label"}}},
{"mark":{"type":"rect"},"data":{"values":[{"level":"Advanced","start":0,"pct":67,"row":0,"row2":1},{"level":"Proficient","start":0,"pct":19.6,"row":1,"row2":2},{"level":"Partially Proficient","start":0,"pct":11.1,"row":2,"row2":3}]},"encoding":{"x2":{"field":"start"},"y2":{"field":"row2"},"fill":{"field":"level","type":"nominal","legend":null}}},
{"mark":{"type":"text","font":"Liberation Sans","fontWeight":"bold","fontSize":60,"align":"right","dx":-1,"baseline":"middle","color":"#ffffff"},"data":{"values":[{"pct":67,"row":0.5,"label":"67%"}]},"encoding":{"text":{"field":"label"}}},
{"mark":{"type":"text","font":"Liberation Sans","fontWeight":"bold","fontSize":50,"align":"right","dx":2,"baseline":"middle","color":"#ffffff"},"data":{"values":[{"pct":19.6,"row":1.5,"label":"20%"}]},"encoding":{"text":{"field":"label"}}},
{"mark":{"type":"text","font":"Liberation Sans","fontWeight":"bold","fontSize":40,"align":"left","baseline":"middle","color":"#000000"},"data":{"values":[{"pct":2,"row":2.53,"label":"11%"}]},"encoding":{"text":{"field":"label"}}}
]},

{"encoding":{"x":{"field":"pct","type":"quantitative","scale":{"domain":[0,30],"range":[1720.4,2185.4],"nice":false,"zero":false},"axis":null},"y":{"field":"row","type":"quantitative","scale":{"domain":[0,4],"range":[44.5,485],"nice":false,"zero":false},"axis":null}},
"layer":[
{"mark":{"type":"rect","fill":"white"},"data":{"values":[{"pct":-1.25,"pct2":35.2,"row":-0.604,"row2":4.626}]},"encoding":{"x2":{"field":"pct2"},"y2":{"field":"row2"}}},
{"mark":{"type":"rule","color":"#e6e6e6","strokeWidth":2},"data":{"name":"ticks30"},"transform":[{"calculate":"-0.481","as":"row"},{"calculate":"4.48","as":"row2"}],"encoding":{"y2":{"field":"row2"}}},
{"mark":{"type":"rule","color":"#a6a6a6","strokeWidth":2.5},"data":{"values":[{"pct":-0.4,"pct2":34.9,"row":-0.481}]},"encoding":{"x2":{"field":"pct2"}}},
{"mark":{"type":"rule","color":"#a6a6a6","strokeWidth":2.5},"data":{"values":[{"pct":0,"row":-0.481,"row2":4.48}]},"encoding":{"y2":{"field":"row2"}}},
{"mark":{"type":"rect"},"data":{"values":[{"level":"Advanced","start":0,"pct":29.6,"row":0,"row2":1},{"level":"Proficient","start":0,"pct":27,"row":1,"row2":2},{"level":"Partially Proficient","start":0,"pct":21.6,"row":2,"row2":3},{"level":"Not Proficient","start":0,"pct":21.6,"row":3,"row2":4}]},"encoding":{"x2":{"field":"start"},"y2":{"field":"row2"},"fill":{"field":"level","type":"nominal","legend":null}}},
{"mark":{"type":"text","font":"Lato","fontSize":54,"align":"right","dx":-16,"baseline":"middle"},"data":{"values":[{"pct":29.6,"row":0.5,"label":"30%"},{"pct":27,"row":1.5,"label":"27%"},{"pct":21.6,"row":2.5,"label":"21%"},{"pct":21.6,"row":3.45,"label":"21%"}]},"encoding":{"text":{"field":"label"},"color":{"condition":{"test":"datum.row<2","value":"#ffffff"},"value":"#2b3a55"}}}
]}
]}
